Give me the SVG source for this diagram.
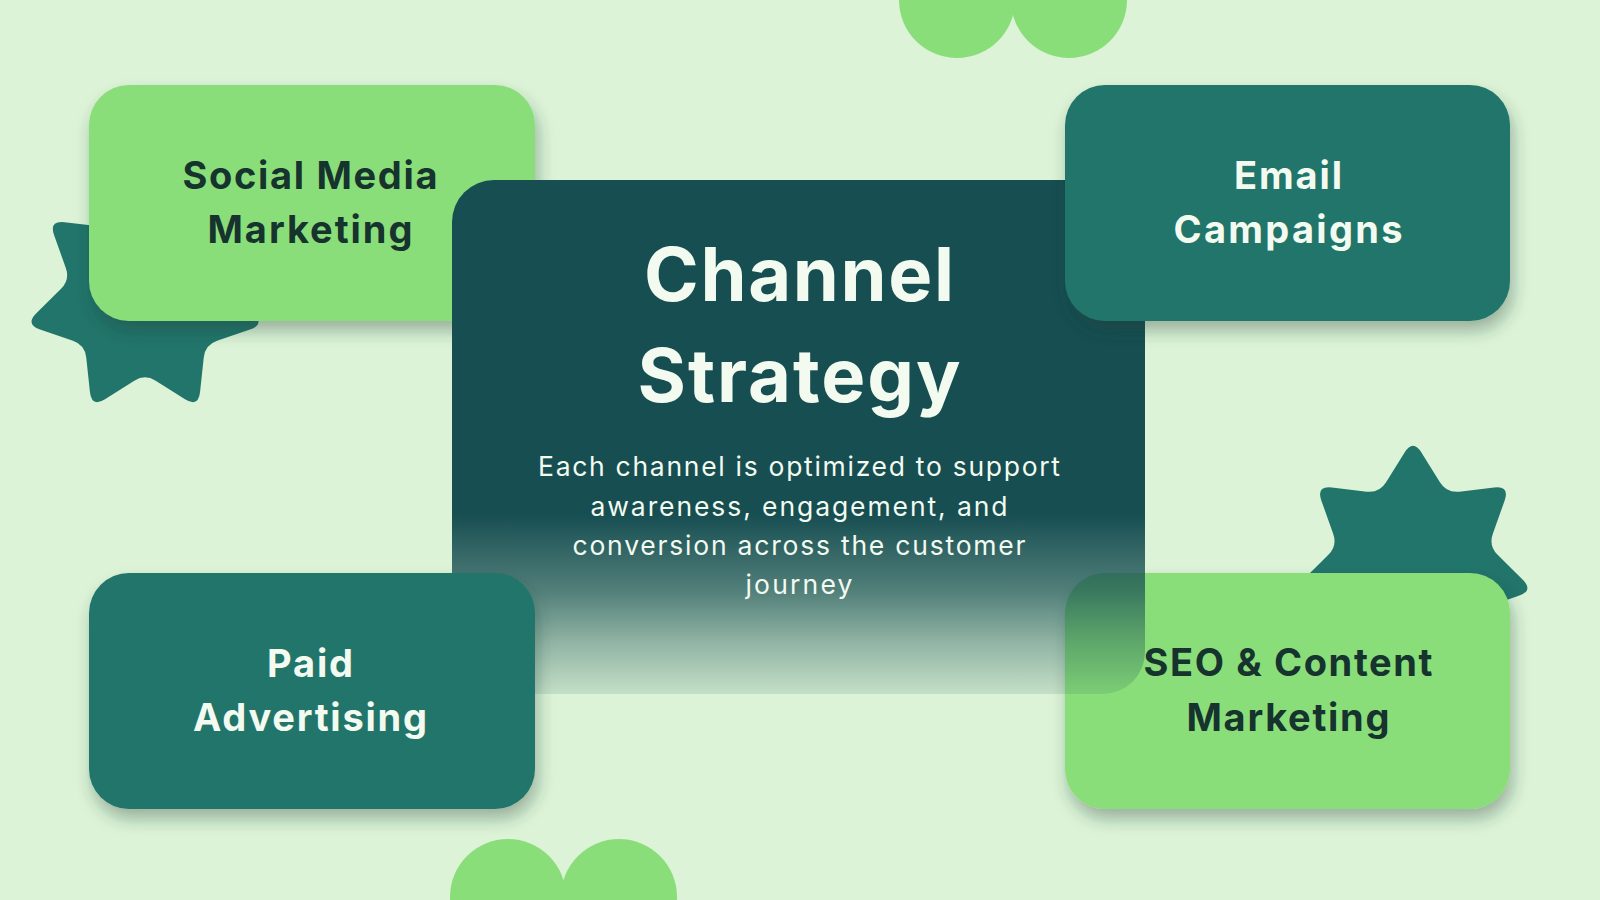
<svg xmlns="http://www.w3.org/2000/svg" width="1600" height="900" viewBox="0 0 1600 900">
  <style>
    .card-light { fill: #8ade7a; }
    .card-teal { fill: #22756b; }
    .lbl { font-family: Inter, "Liberation Sans", sans-serif; font-weight: 700; font-size: 38px; text-anchor: middle; }
    .lbl-dark { fill: #16332e; }
    .lbl-light { fill: #f3fbf0; }
    .title { font-family: Inter, "Liberation Sans", sans-serif; font-weight: 700; font-size: 74px; text-anchor: middle; fill: #f3fbf0; }
    .body { font-family: Inter, "Liberation Sans", sans-serif; font-weight: 400; font-size: 26.5px; text-anchor: middle; fill: #f3fbf0; }
    .blob { fill: #8ade7a; }
    .star { fill: #22756b; }
  </style>
  <defs>
    <filter id="shadow" x="-20%" y="-20%" width="140%" height="150%">
      <feDropShadow dx="3" dy="10" stdDeviation="8" flood-color="#1b3a30" flood-opacity="0.35"/>
    </filter>
    <linearGradient id="centerFade" x1="0" y1="0" x2="0" y2="1">
      <stop offset="0" stop-color="#174e52" stop-opacity="1"/>
      <stop offset="0.65" stop-color="#174e52" stop-opacity="1"/>
      <stop offset="0.8" stop-color="#174e52" stop-opacity="0.7"/>
      <stop offset="0.9" stop-color="#174e52" stop-opacity="0.38"/>
      <stop offset="1" stop-color="#174e52" stop-opacity="0.12"/>
    </linearGradient>
    <path id="starShape" d="M 6.78 -89.08 L 21.70 -65.05 Q 27.12 -56.31 37.33 -57.52 L 65.41 -60.84 Q 78.18 -62.35 73.87 -50.24 L 64.38 -23.60 Q 60.93 -13.91 68.24 -6.68 L 88.35 13.21 Q 97.49 22.25 85.33 26.43 L 58.59 35.63 Q 48.86 38.97 47.77 49.20 L 44.76 77.32 Q 43.39 90.10 32.54 83.20 L 8.68 68.02 Q 0 62.5 -8.68 68.02 L -32.54 83.20 Q -43.39 90.10 -44.76 77.32 L -47.77 49.20 Q -48.86 38.97 -58.59 35.63 L -85.33 26.43 Q -97.49 22.25 -88.35 13.21 L -68.24 -6.68 Q -60.93 -13.91 -64.38 -23.60 L -73.87 -50.24 Q -78.18 -62.35 -65.41 -60.84 L -37.33 -57.52 Q -27.12 -56.31 -21.70 -65.05 L -6.78 -89.08 Q 0 -100 6.78 -89.08 Z"/>
  </defs>

  <rect x="0" y="0" width="1600" height="900" fill="#dcf3d7"/>

  <g id="decor">
    <circle class="blob" cx="957" cy="0" r="58"/>
    <circle class="blob" cx="1069" cy="0" r="58"/>
    <circle class="blob" cx="508" cy="897" r="58"/>
    <circle class="blob" cx="619" cy="897" r="58"/>
    <use href="#starShape" class="star" transform="translate(145 297) scale(1.23)"/>
    <use href="#starShape" class="star" transform="translate(1413 563) scale(1.24)"/>
  </g>

  <g id="node-social">
    <rect class="card-light" x="89" y="85" width="446" height="236" rx="40" filter="url(#shadow)"/>
    <text class="lbl lbl-dark" x="310" y="189" textLength="255" lengthAdjust="spacing">Social Media</text>
    <text class="lbl lbl-dark" x="310" y="243" textLength="205" lengthAdjust="spacing">Marketing</text>
  </g>

  <g id="node-seo">
    <rect class="card-light" x="1065" y="573" width="445" height="236" rx="40" filter="url(#shadow)"/>
    <text class="lbl lbl-dark" x="1288" y="676" textLength="289" lengthAdjust="spacing">SEO &amp; Content</text>
    <text class="lbl lbl-dark" x="1288" y="731" textLength="203" lengthAdjust="spacing">Marketing</text>
  </g>

  <g id="node-center">
    <rect x="452" y="180" width="693" height="514" rx="42" fill="url(#centerFade)"/>
    <text class="title" x="799" y="301" textLength="310" lengthAdjust="spacing">Channel</text>
    <text class="title" x="799" y="402" textLength="323" lengthAdjust="spacing">Strategy</text>
    <text class="body" x="799" y="476" textLength="522" lengthAdjust="spacing">Each channel is optimized to support</text>
    <text class="body" x="799" y="516" textLength="417" lengthAdjust="spacing">awareness, engagement, and</text>
    <text class="body" x="799" y="555" textLength="453" lengthAdjust="spacing">conversion across the customer</text>
    <text class="body" x="799" y="594" textLength="107" lengthAdjust="spacing">journey</text>
  </g>

  <g id="node-email">
    <rect class="card-teal" x="1065" y="85" width="445" height="236" rx="40" filter="url(#shadow)"/>
    <text class="lbl lbl-light" x="1288" y="189" textLength="108" lengthAdjust="spacing">Email</text>
    <text class="lbl lbl-light" x="1288" y="243" textLength="229" lengthAdjust="spacing">Campaigns</text>
  </g>

  <g id="node-paid">
    <rect class="card-teal" x="89" y="573" width="446" height="236" rx="40" filter="url(#shadow)"/>
    <text class="lbl lbl-light" x="310" y="677" textLength="86" lengthAdjust="spacing">Paid</text>
    <text class="lbl lbl-light" x="310" y="731" textLength="234" lengthAdjust="spacing">Advertising</text>
  </g>
</svg>
